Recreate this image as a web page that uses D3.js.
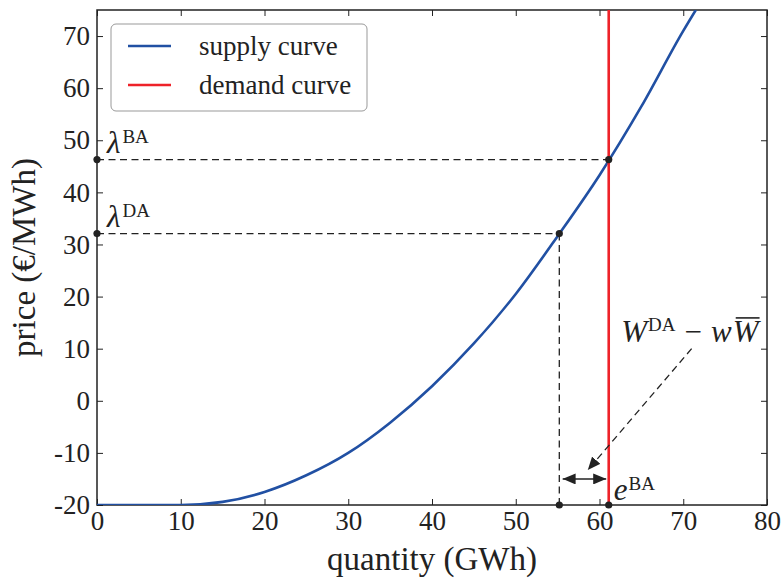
<!DOCTYPE html>
<html>
<head>
<meta charset="utf-8">
<script src="https://cdn.jsdelivr.net/npm/d3@7"></script>
<style>
    body { margin: 0; background: #fff; }
    text { font-family: "Liberation Serif", "Times New Roman", serif; fill: #222; }
</style>
</head>
<body>
<div id="chart"></div>
<script>

// supply curve
var supplyQ = [0, 10, 15, 20, 25, 30, 35, 40, 45, 50, 55, 60, 65, 70, 71.5];
var supplyP = [-20, -20, -19.4, -17.5, -14.3, -10, -4.2, 2.8, 11, 20.5, 31.6, 43.3, 56.5, 71, 75];

// vertical demand curve
var demandQ = 61.1;

// clearing points: day-ahead and balancing
var clearingQ = [55.2, 61.1];
var clearingP = [32.1, 46.3];
var clearingTags = ["DA", "BA"];

var xTicks = [0, 10, 20, 30, 40, 50, 60, 70, 80];
var yTicks = [-20, -10, 0, 10, 20, 30, 40, 50, 60, 70];

var legendNames = ["supply curve", "demand curve"];
var legendColors = ["#2150a3", "#ee2229"];

var margin = {top: 10, right: 17, bottom: 73, left: 97},
    width = 784 - margin.left - margin.right,
    height = 578 - margin.top - margin.bottom;

var x = d3.scaleLinear().domain([0, 80]).range([0, width]),
    y = d3.scaleLinear().domain([-20, 75]).range([height, 0]);

var svg = d3.select("#chart").append("svg")
    .attr("width", 784)
    .attr("height", 578);

var defs = svg.append("defs");
defs.append("clipPath").attr("id", "plotclip")
    .append("rect").attr("width", width).attr("height", height);

defs.append("marker")
    .attr("id", "head")
    .attr("markerUnits", "userSpaceOnUse")
    .attr("markerWidth", 13).attr("markerHeight", 11)
    .attr("refX", 13).attr("refY", 5.5)
    .attr("orient", "auto-start-reverse")
    .append("path")
    .attr("d", "M0,0 L13,5.5 L0,11 Z")
    .attr("fill", "#222");

var g = svg.append("g")
    .attr("transform", "translate(" + margin.left + "," + margin.top + ")");

var fmt = function(d) { return String(d); };

// axes, ticks pointing inward on all four sides
g.append("g")
    .attr("transform", "translate(0," + height + ")")
    .call(d3.axisBottom(x).tickValues(xTicks).tickSize(-6).tickPadding(6).tickFormat(fmt));
g.append("g")
    .call(d3.axisLeft(y).tickValues(yTicks).tickSize(-6).tickPadding(7).tickFormat(fmt));
g.append("g")
    .call(d3.axisTop(x).tickValues(xTicks).tickSize(-6).tickFormat(""));
g.append("g")
    .attr("transform", "translate(" + width + ",0)")
    .call(d3.axisRight(y).tickValues(yTicks).tickSize(-6).tickFormat(""));

g.selectAll(".domain").remove();
g.selectAll(".tick line").attr("stroke", "#222").attr("stroke-width", 1);
g.selectAll(".tick text")
    .style("font-family", "'Liberation Serif', serif")
    .style("font-size", "27px")
    .attr("fill", "#222");

g.append("rect")
    .attr("width", width).attr("height", height)
    .attr("fill", "none").attr("stroke", "#222").attr("stroke-width", 1.5);

// axis titles
svg.append("text")
    .attr("x", margin.left + width / 2)
    .attr("y", 570)
    .attr("text-anchor", "middle")
    .style("font-size", "33px")
    .text("quantity (GWh)");

svg.append("text")
    .attr("transform", "translate(35," + (margin.top + height / 2) + ") rotate(-90)")
    .attr("text-anchor", "middle")
    .style("font-size", "33px")
    .text("price (€/MWh)");

// dashed guide lines
var dash = "7,4.5";
clearingP.forEach(function(p, i) {
    g.append("line")
        .attr("x1", x(0)).attr("x2", x(clearingQ[i]))
        .attr("y1", y(p)).attr("y2", y(p))
        .attr("stroke", "#222").attr("stroke-width", 1.3)
        .attr("stroke-dasharray", dash);
});
g.append("line")
    .attr("x1", x(clearingQ[0])).attr("x2", x(clearingQ[0]))
    .attr("y1", y(clearingP[0])).attr("y2", y(-20))
    .attr("stroke", "#222").attr("stroke-width", 1.3)
    .attr("stroke-dasharray", dash);

// supply curve
var line = d3.line()
    .x(function(d, i) { return x(supplyQ[i]); })
    .y(function(d) { return y(d); })
    .curve(d3.curveMonotoneX);

g.append("path")
    .datum(supplyP)
    .attr("clip-path", "url(#plotclip)")
    .attr("fill", "none")
    .attr("stroke", legendColors[0])
    .attr("stroke-width", 2.6)
    .attr("d", line);

// demand curve
g.append("line")
    .attr("x1", x(demandQ)).attr("x2", x(demandQ))
    .attr("y1", y(-20)).attr("y2", y(75))
    .attr("stroke", legendColors[1])
    .attr("stroke-width", 2.6);

// dots on the axes and at the intersections
var dots = [];
clearingQ.forEach(function(q, i) {
    dots.push([q, clearingP[i]], [0, clearingP[i]], [q, -20]);
});
g.selectAll(".dot")
    .data(dots)
    .enter().append("circle")
    .attr("class", "dot")
    .attr("cx", function(d) { return x(d[0]); })
    .attr("cy", function(d) { return y(d[1]); })
    .attr("r", 3.6)
    .attr("fill", "#222");

// lambda labels
clearingP.forEach(function(p, i) {
    var t = g.append("text")
        .attr("x", x(0) + 10)
        .attr("y", y(p) - 7)
        .style("font-size", "31px");
    t.append("tspan").style("font-style", "italic").text("λ");
    t.append("tspan").attr("dx", 2).attr("dy", -10).style("font-size", "19px").text(clearingTags[i]);
});

// imbalance double arrow
g.append("line")
    .attr("x1", x(55.6)).attr("x2", x(60.8))
    .attr("y1", y(-15)).attr("y2", y(-15))
    .attr("stroke", "#222").attr("stroke-width", 1.4)
    .attr("marker-start", "url(#head)")
    .attr("marker-end", "url(#head)");

var eLab = g.append("text")
    .attr("x", x(demandQ) + 5)
    .attr("y", y(-20) - 5)
    .style("font-size", "31px");
eLab.append("tspan").style("font-style", "italic").text("e");
eLab.append("tspan").attr("dx", 1).attr("dy", -10).style("font-size", "19px").text("BA");

// W annotation with dashed pointer
g.append("line")
    .attr("x1", x(71.0)).attr("y1", y(10.0))
    .attr("x2", x(58.6)).attr("y2", y(-13.3))
    .attr("stroke", "#222").attr("stroke-width", 1.3)
    .attr("stroke-dasharray", dash)
    .attr("marker-end", "url(#head)");

var wLab = g.append("text")
    .attr("x", x(62.6))
    .attr("y", y(11.3))
    .style("font-size", "31px");
wLab.append("tspan").style("font-style", "italic").text("W");
wLab.append("tspan").attr("dx", 1).attr("dy", -11).style("font-size", "19px").text("DA");
wLab.append("tspan").attr("dx", 9).attr("dy", 11).text("−");
wLab.append("tspan").attr("dx", 9).style("font-style", "italic").text("w");
wLab.append("tspan").attr("dx", 1).style("font-style", "italic").text("W");

var wNode = wLab.node();
var nChars = wNode.getNumberOfChars();
var startW = wNode.getStartPositionOfChar(nChars - 1);
var endW = wNode.getEndPositionOfChar(nChars - 1);
g.append("line")
    .attr("x1", startW.x + 3).attr("x2", endW.x + 1)
    .attr("y1", y(11.3) - 24).attr("y2", y(11.3) - 24)
    .attr("stroke", "#222").attr("stroke-width", 1.6);

// legend
var legend = g.append("g").attr("transform", "translate(14,14)");
legend.append("rect")
    .attr("width", 256).attr("height", 87)
    .attr("rx", 5)
    .attr("fill", "#fff")
    .attr("stroke", "#999").attr("stroke-width", 1);

legendNames.forEach(function(name, i) {
    var row = legend.append("g").attr("transform", "translate(0," + (22 + i * 39) + ")");
    row.append("line")
        .attr("x1", 17).attr("x2", 60)
        .attr("stroke", legendColors[i]).attr("stroke-width", 2.6);
    row.append("text")
        .attr("x", 88).attr("y", 9)
        .style("font-size", "27px")
        .text(name);
});

</script>
</body>
</html>
